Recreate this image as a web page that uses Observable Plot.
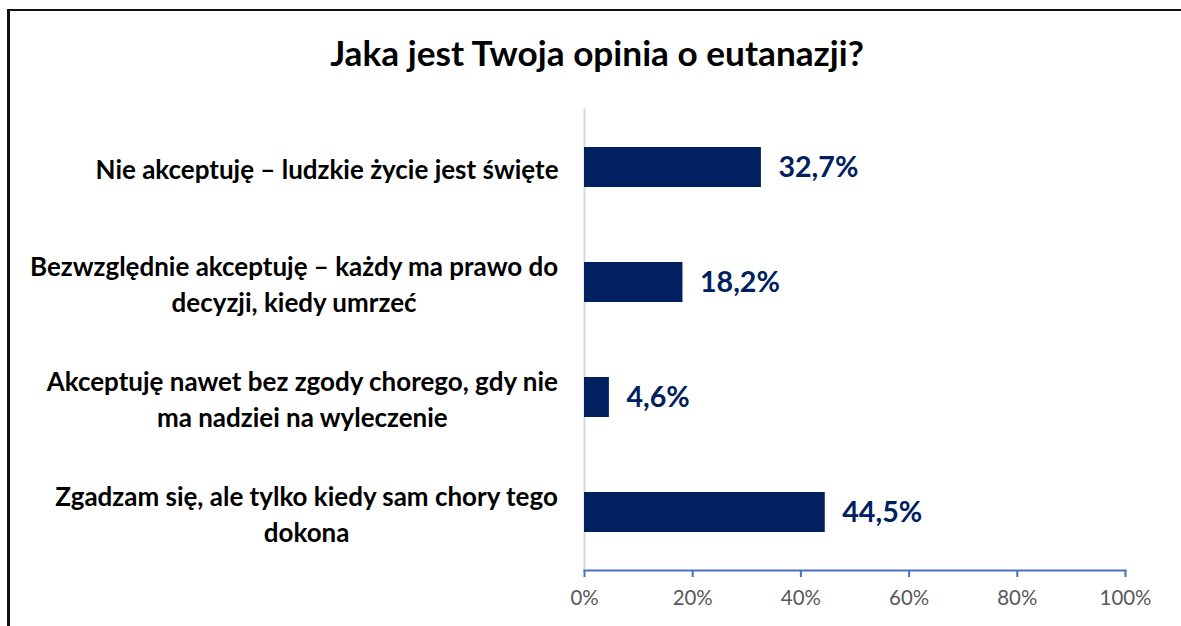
<!DOCTYPE html>
<html>
<head>
<meta charset="utf-8">
<script src="https://cdn.jsdelivr.net/npm/d3@7"></script>
<script src="https://cdn.jsdelivr.net/npm/@observablehq/plot@0.6"></script>
<style>
  html, body { margin: 0; padding: 0; background: #fff; overflow: hidden; }
  body { width: 1181px; height: 626px; position: relative; font-family: Lato, "Open Sans", sans-serif; }
  #frame { position: absolute; left: 7px; top: 9px; width: 1174px; height: 617px; border-left: 3px solid #111; border-top: 2px solid #111; box-sizing: border-box; }
  #title { position: absolute; left: 0; width: 1194px; top: 30px; text-align: center; font-weight: bold; color: #000; white-space: nowrap; }
  #chart { position: absolute; left: 0; top: 100px; }
</style>
</head>
<body>
<div id="frame"></div>
<div id="title">Jaka jest Twoja opinia o eutanazji?</div>
<div id="chart"></div>
<script>
const categories = [
  "Nie akceptuję – ludzkie życie jest święte",
  "Bezwzględnie akceptuję – każdy ma prawo do\ndecyzji, kiedy umrzeć",
  "Akceptuję nawet bez zgody chorego, gdy nie\nma nadziei na wyleczenie",
  "Zgadzam się, ale tylko kiedy sam chory tego\ndokona"
];
const values = [32.7, 18.2, 4.6, 44.5];
const valueLabels = ["32,7%", "18,2%", "4,6%", "44,5%"];
const xTicks = [0, 20, 40, 60, 80, 100];
const tickLabels = ["0%", "20%", "40%", "60%", "80%", "100%"];

const data = categories.map((c, i) => ({cat: c, value: values[i], label: valueLabels[i]}));

const FONT = "Lato";
const ctx = document.createElement("canvas").getContext("2d");
function measure(text, size, weight) {
  ctx.font = `${weight} ${size}px ${FONT}`;
  return ctx.measureText(text).width;
}
// fit font sizes to widths observed in the reference
function fitSize(text, target, weight) {
  return +(20 * target / measure(text, 20, weight)).toFixed(2);
}
const titleSize = fitSize("Jaka jest Twoja opinia o eutanazji?", 535, "bold");
const catSize = fitSize("Nie akceptuję – ludzkie życie jest święte", 463, "bold");
const valSize = fitSize("32,7%", 80, "bold");
const tickSize = fitSize("100%", 52, "normal");

const titleEl = document.getElementById("title");
titleEl.style.fontSize = titleSize + "px";
titleEl.style.lineHeight = "44px";

const labelMarks = categories.map(c => {
  const w = d3.max(c.split("\n"), l => measure(l, catSize, "bold"));
  return Plot.text([c], {
    y: d => d,
    frameAnchor: "left",
    textAnchor: "middle",
    lineAnchor: "middle",
    lineHeight: 1.4,
    dx: -26 - w / 2,
    fontWeight: "bold",
    fontSize: catSize,
    fill: "#000"
  });
});

const chart = Plot.plot({
  width: 1181,
  height: 526,
  marginLeft: 584,
  marginRight: 56,
  marginTop: 8,
  marginBottom: 56,
  style: {fontFamily: FONT, background: "transparent"},
  x: {domain: [0, 100], axis: null},
  y: {domain: categories, paddingInner: 0.654, paddingOuter: 0.327, axis: null},
  marks: [
    Plot.ruleX([0], {stroke: "#d9d9d9", strokeWidth: 2}),
    Plot.barX(data, {x: "value", y: "cat", fill: "#002060"}),
    Plot.text(data, {x: "value", y: "cat", text: "label", dx: 17, textAnchor: "start", fill: "#002060", fontWeight: "bold", fontSize: valSize}),
    Plot.frame({anchor: "bottom", stroke: "#4472C4", strokeWidth: 2}),
    Plot.axisX({
      anchor: "bottom",
      ticks: xTicks,
      tickFormat: d => tickLabels[xTicks.indexOf(d)],
      tickSize: 7,
      tickPadding: 13,
      stroke: "#4472C4",
      strokeWidth: 2,
      strokeOpacity: 1,
      fill: "#595959",
      fontSize: tickSize,
      label: null
    }),
    ...labelMarks
  ]
});
document.getElementById("chart").appendChild(chart);
</script>
</body>
</html>
